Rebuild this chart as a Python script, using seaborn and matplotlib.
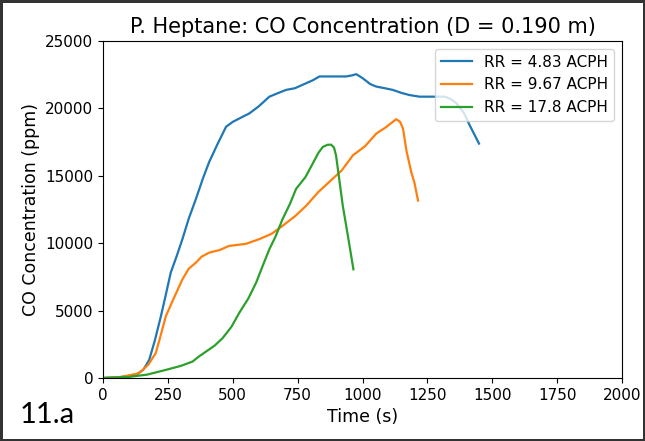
import matplotlib
matplotlib.use("Agg")
import matplotlib.pyplot as plt
import seaborn as sns
import pandas as pd

# Series data
t_483 = [0, 60, 126, 155, 178, 200, 223, 240, 261, 285, 306, 330, 358, 385, 409, 440, 474, 500, 520, 564, 600, 641, 670, 705, 740, 783, 810, 834, 900, 937, 960, 976, 1000, 1030, 1053, 1085, 1117, 1150, 1181, 1220, 1259, 1317, 1340, 1362, 1390, 1413, 1449]
v_483 = [0, 50, 224, 600, 1343, 2800, 4575, 6000, 7813, 9100, 10300, 11800, 13280, 14800, 16020, 17300, 18630, 19000, 19200, 19630, 20150, 20870, 21100, 21370, 21500, 21870, 22100, 22370, 22370, 22370, 22450, 22540, 22250, 21800, 21620, 21500, 21370, 21150, 20990, 20870, 20870, 20870, 20700, 20370, 19700, 18750, 17390]

t_967 = [0, 70, 139, 175, 203, 220, 242, 270, 306, 330, 358, 380, 409, 450, 486, 550, 602, 650, 692, 740, 783, 830, 885, 920, 963, 1010, 1053, 1090, 1130, 1145, 1156, 1170, 1188, 1200, 1214]
v_967 = [0, 80, 350, 1000, 1840, 3000, 4575, 5800, 7313, 8100, 8560, 9000, 9300, 9500, 9800, 9950, 10300, 10700, 11290, 12000, 12780, 13800, 14780, 15400, 16520, 17200, 18130, 18600, 19200, 19000, 18510, 16800, 15270, 14500, 13160]

t_178 = [0, 100, 170, 242, 300, 345, 370, 397, 430, 461, 495, 525, 560, 590, 615, 641, 665, 692, 720, 744, 780, 808, 830, 847, 865, 879, 890, 898, 910, 924, 945, 965]
v_178 = [0, 80, 250, 600, 900, 1220, 1600, 1960, 2400, 2960, 3800, 4830, 5900, 7070, 8300, 9550, 10500, 11790, 12900, 14030, 14900, 15900, 16700, 17140, 17300, 17310, 17100, 16520, 14800, 12780, 10400, 8060]

labels = ["RR = 4.83 ACPH", "RR = 9.67 ACPH", "RR = 17.8 ACPH"]
title = "P. Heptane: CO Concentration (D = 0.190 m)"
xlabel = "Time (s)"
ylabel = "CO Concentration (ppm)"
panel = "11.a"

df = pd.concat([
    pd.DataFrame({"t": t_483, "v": v_483, "series": labels[0]}),
    pd.DataFrame({"t": t_967, "v": v_967, "series": labels[1]}),
    pd.DataFrame({"t": t_178, "v": v_178, "series": labels[2]}),
])

fig = plt.figure(figsize=(6.45, 4.41), dpi=100)
ax = fig.add_axes([103 / 645, 1 - 378 / 441, 519 / 645, 337 / 441])
sns.lineplot(data=df, x="t", y="v", hue="series", palette=["#1f77b4", "#ff7f0e", "#2ca02c"],
             ax=ax, linewidth=1.6, sort=False, estimator=None)
ax.set_xlim(0, 2000)
ax.set_ylim(0, 25000)
ax.set_xticks(range(0, 2001, 250))
ax.set_yticks(range(0, 25001, 5000))
ax.tick_params(labelsize=11)
ax.set_title(title, fontsize=15)
ax.set_xlabel(xlabel, fontsize=12.5)
ax.set_ylabel(ylabel, fontsize=12.5)
ax.legend(title=None, loc="upper right", fontsize=11)

fig.text(20 / 645, 1 - 423 / 441, panel, fontsize=21, family="Lato")
fig.patch.set_edgecolor("#333333")
fig.patch.set_linewidth(2.5)
fig.savefig("out.png", dpi=100, edgecolor=fig.get_edgecolor())
